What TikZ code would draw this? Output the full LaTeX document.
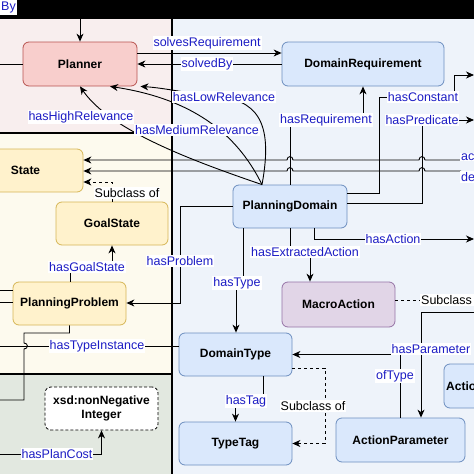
\documentclass[tikz,border=0pt]{standalone}
\usepackage{fontspec}
\setmainfont{Liberation Sans}
\usetikzlibrary{arrows.meta}
\definecolor{pinkbg}{HTML}{F8EEEE}
\definecolor{bluebg}{HTML}{EEF3FA}
\definecolor{yellowbg}{HTML}{FDFAEE}
\definecolor{greenbg}{HTML}{E2E8E0}
\definecolor{redfill}{HTML}{F8CECC}
\definecolor{redline}{HTML}{B85450}
\definecolor{bluefill}{HTML}{DAE8FC}
\definecolor{blueline}{HTML}{6C8EBF}
\definecolor{yelfill}{HTML}{FFF2CC}
\definecolor{yelline}{HTML}{D6B656}
\definecolor{purfill}{HTML}{E1D5E7}
\definecolor{purline}{HTML}{9673A6}
\definecolor{lbl}{HTML}{1C1CC4}
\begin{document}
\begin{tikzpicture}[x=1pt,y=-1pt,
  cls/.style={draw, rounded corners=6pt, line width=0.8pt, inner sep=0pt,
    font=\fontsize{12}{14}\selectfont\bfseries},
  redc/.style={cls, fill=redfill, draw=redline},
  bluec/.style={cls, fill=bluefill, draw=blueline},
  yelc/.style={cls, fill=yelfill, draw=yelline},
  purc/.style={cls, fill=purfill, draw=purline},
  lab/.style={font=\fontsize{12.5}{14}\selectfont, text=lbl, fill=white, inner sep=1pt},
  sublab/.style={font=\fontsize{12.5}{14}\selectfont, text=black, fill=white, inner sep=1pt},
  edge/.style={line width=0.9pt, black},
  arr/.style={edge, -{Stealth[length=8pt,width=7pt,inset=2.5pt]}},
  darr/.style={arr, dashed, dash pattern=on 3pt off 3pt},
  dline/.style={edge, dash pattern=on 3pt off 3pt},
  region/.style={line width=2pt, black}]
\useasboundingbox (0,0) rectangle (474,474);
\clip (0,0) rectangle (474,474);
% regions
\fill[bluebg] (172,19) rectangle (474,474);
\fill[pinkbg] (0,19) rectangle (172,133);
\fill[yellowbg] (0,133) rectangle (172,374);
\fill[greenbg] (0,374) rectangle (172,474);
\fill[black] (0,0) rectangle (474,19);
\draw[region] (172,19) -- (172,474);
\draw[region] (0,133) -- (172,133);
\draw[region] (0,374) -- (172,374);
\node[lab, anchor=east, minimum height=15pt] (by) at (17,7) {By};

% nodes
\node[redc, minimum width=114, minimum height=44] (planner) at (80,64) {Planner};
\node[bluec, minimum width=162, minimum height=44] (dr) at (363,64) {DomainRequirement};
\node[yelc, minimum width=115, minimum height=43] (state) at (25.5,170.5) {State};
\node[yelc, minimum width=112, minimum height=43] (gs) at (112,223.5) {GoalState};
\node[yelc, minimum width=113, minimum height=43] (pp) at (69.5,303.5) {PlanningProblem};
\node[bluec, minimum width=114, minimum height=43] (pd) at (290,206.5) {PlanningDomain};
\node[purc, minimum width=113, minimum height=45] (ma) at (338.5,304.5) {MacroAction};
\node[bluec, minimum width=113, minimum height=43] (dt) at (235.5,354.5) {DomainType};
\node[bluec, minimum width=113, minimum height=43] (tt) at (235.5,443.5) {TypeTag};
\node[bluec, minimum width=129, minimum height=44] (ap) at (400.5,440) {ActionParameter};
\node[bluec, minimum width=116, minimum height=44] (act) at (502,386) {};
\node[anchor=west, inner sep=0pt, font=\fontsize{12}{14}\selectfont\bfseries] (acttxt) at (446,386) {Action};
\node[cls, fill=white, draw=black, dashed, dash pattern=on 3pt off 2pt, minimum width=113, minimum height=43, align=center,
  font=\fontsize{12}{14.5}\selectfont\bfseries] (xsd) at (101.5,408.5) {xsd:nonNegative\\Integer};

% free ends
\coordinate (topP) at (80,19);
\coordinate (plL) at (0,64);
\coordinate (hcR) at (474,75);
\coordinate (hpR) at (474,120);
\coordinate (haR) at (474,239);
\coordinate (hparR) at (474,312);
\coordinate (acR) at (461,160);
\coordinate (deR) at (461,171);
\coordinate (ppL1) at (0,290);
\coordinate (ppL2) at (0,302);
\coordinate (ppL3) at (0,400);
\coordinate (htiL) at (0,346);
\coordinate (hpcL) at (0,454);
\coordinate (pdTop) at ([xshift=-28pt]pd.north);

% Planner edges
\draw[arr] (topP) -- (planner.north);
\draw[edge] (planner.west) -- (plL);
\draw[arr] ([yshift=11pt]planner.east) -- ([yshift=11pt]dr.west);
\node[lab] (lsr) at (207,43) {solvesRequirement};
\draw[arr] (dr.west) -- (planner.east);
\node[lab] (lsb) at (207,64) {solvedBy};

% relevance curves
\draw[arr] (pdTop) .. controls (190,160) and (110,130) .. (planner.south);
\node[lab] (lhr) at (81,117) {hasHighRelevance};
\draw[arr] (pdTop) .. controls (240,140) and (200,100) .. ([xshift=30pt]planner.south);
\node[lab] (lmr) at (197,130) {hasMediumRelevance};
\draw[arr] (pdTop) .. controls (274,120) and (256,100) .. (215,96) .. controls (185,93) and (165,88) .. ([xshift=3pt]planner.south east);
\node[lab] (llr) at (224,97) {hasLowRelevance};

% lines into State (with hops)
\draw[arr] (acR) -- (425,160) .. controls (425,155.5) and (419,155.5) .. (419,160) -- (293,160) .. controls (293,155.5) and (287,155.5) .. (287,160) -- (state.east |- acR);
\draw[arr] (deR) -- (425,171) .. controls (425,166.5) and (419,166.5) .. (419,171) -- (293,171) .. controls (293,166.5) and (287,166.5) .. (287,171) -- (state.east |- deR);
\node[lab, anchor=west] (lac) at (460,157) {ac};
\node[lab, anchor=west] (lde) at (460,177) {de};

% PlanningDomain edges
\draw[arr] (pd.north) -- (290,120) -| (dr.south);
\node[lab] (lhreq) at (326,120) {hasRequirement};
\draw[arr] ([yshift=13.5pt]pd.east) -| (379,97) -- (454,97) |- (hcR);
\node[lab] (lhc) at (423,97) {hasConstant};
\draw[arr] ([yshift=3.5pt]pd.east) -| (422,120) -- (hpR);
\node[lab] (lhp) at (422,120) {hasPredicate};
\draw[arr] ([xshift=24pt]pd.south) |- (haR);
\node[lab] (lha) at (393,239) {hasAction};
\draw[arr] (pd.south) -- (290,252) -| ([xshift=-28.5pt]ma.north);
\node[lab] (lhea) at (305,252) {hasExtractedAction};
\draw[arr] ([xshift=-47pt]pd.south) -- (243,283) -| ([xshift=0.5pt]dt.north);
\node[lab] (lht) at (237,283) {hasType};
\draw[arr] (pd.west) -| (180,303) -- ([yshift=0.5pt]pp.east);
\node[lab] (lhpb) at (180,261) {hasProblem};

% Yellow region edges
\draw[darr] (gs.north) |- ([yshift=-11.5pt]state.east);
\node[sublab] (lsc1) at (127,193) {Subclass of};
\draw[arr] ([xshift=0.5pt]pp.north) -- (70,267) -| (gs.south);
\node[lab] (lhgs) at (87,267) {hasGoalState};
\draw[edge] ([yshift=13.5pt]pp.west) -- (ppL1);
\draw[edge] ([yshift=1.5pt]pp.west) -- (ppL2);
\draw[edge] (pp.south) -- (69.5,333) -- (24,333) -- (24,343) .. controls (28.5,343) and (28.5,349) .. (24,349) -- (24,400) -- (ppL3);
\draw[edge] ([yshift=8.5pt]dt.west) -- (htiL);
\node[lab] (lhti) at (97,346) {hasTypeInstance};
\draw[arr] (hpcL) -| (xsd.south);
\node[lab] (lhpc) at (57,454) {hasPlanCost};

% DomainType edges
\draw[arr] ([xshift=27.5pt]dt.south) -- (263,401) -| (tt.north);
\node[lab] (lhtag) at (246,401) {hasTag};
\draw[darr] ([yshift=-13.5pt]dt.east) -| (325,443.5) -- (tt.east);
\node[sublab] (lsc2) at (313,406) {Subclass of};
\draw[arr] ([xshift=-0.5pt]ap.north) |- (dt.east);
\node[lab] (lot) at (395,376) {ofType};
\draw[arr] (hparR) -| ([xshift=20.5pt]ap.north);
\node[lab] (lhpar) at (431,349) {hasParameter};
\draw[dline] ([yshift=4.5pt]ma.east) -- (420,300);
\node[sublab, anchor=west] (lsc3) at (420,300) {Subclass of};
\end{tikzpicture}
\end{document}
